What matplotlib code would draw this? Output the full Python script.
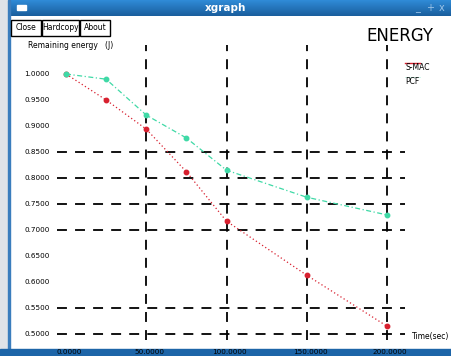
import numpy as np
import matplotlib.pyplot as plt
from matplotlib.patches import Rectangle

# data
time_s = [0, 25, 50, 75, 100, 150, 200]
smac = [1.0, 0.95, 0.894, 0.812, 0.717, 0.613, 0.515]
pcf = [1.0, 0.99, 0.921, 0.877, 0.815, 0.763, 0.729]
xticks = [0, 50, 100, 150, 200]
yticks = [1.0, 0.95, 0.9, 0.85, 0.8, 0.75, 0.7, 0.65, 0.6, 0.55, 0.5]
ygrid = [0.85, 0.8, 0.75, 0.7, 0.55, 0.5]

W, H = 451, 356
fig = plt.figure(figsize=(W / 100, H / 100), dpi=100)
fig.patch.set_facecolor('white')

def fx(px):
    return px / W

def fy(py):
    return 1 - py / H

# window decorations
bg = fig.add_axes([0, 0, 1, 1])
bg.set_xlim(0, W)
bg.set_ylim(H, 0)
bg.axis('off')
bg.add_patch(Rectangle((0, 0), 9, H, color='#dfe3e8'))
bg.add_patch(Rectangle((8, 0), 2, H, color='#3a7dbd'))
grad = np.linspace(0, 1, 16).reshape(-1, 1)
cmap = plt.matplotlib.colors.LinearSegmentedColormap.from_list('t', ['#2f8ad6', '#1a5f9e'])
bg.imshow(grad, extent=(9, W, 16, 0), cmap=cmap, aspect='auto')
bg.add_patch(Rectangle((0, 349), W, 7, color='#1d65a8'))
bg.add_patch(Rectangle((17, 5), 9, 5, color='white'))
bg.text(226, 8, 'xgraph', color='white', fontsize=7.5, fontweight='bold', ha='center', va='center')
bg.text(418, 8, '_', color='#9cc4e8', fontsize=7, ha='center', va='center')
bg.text(430, 8, '+', color='#9cc4e8', fontsize=7, ha='center', va='center')
bg.text(442, 8, 'x', color='#9cc4e8', fontsize=7, ha='center', va='center')
for x0, w, lab in [(11, 30, 'Close'), (42, 37, 'Hardcopy'), (80, 30, 'About')]:
    bg.add_patch(Rectangle((x0, 20), w, 16, fill=False, ec='black', lw=1))
    bg.text(x0 + w / 2, 28, lab, fontsize=5.5, ha='center', va='center')
bg.text(433, 36, 'ENERGY', fontsize=12, ha='right', va='center')
bg.text(28, 46, 'Remaining energy   (J)', fontsize=5.5, ha='left', va='center')
bg.text(412, 336, 'Time(sec)', fontsize=5.5, ha='left', va='center')

# plot area: x 57..405 px, y 45..340 px
ax = fig.add_axes([fx(57), fy(340), fx(405) - fx(57), fy(45) - fy(340)])
sx = 321 / 200
ax.set_xlim(0 - 9 / sx, 200 + 18 / sx)
ax.set_ylim(0.5 - 6 / 520, 1.0 + 29 / 520)
ax.axis('off')

for v in ygrid:
    ax.axhline(v, color='black', lw=1.3, ls=(0, (5.5, 4.5)))
for v in xticks[1:]:
    ax.axvline(v, color='black', lw=1.3, ls=(0, (5.5, 4.5)))

ax.plot(time_s, smac, color='#d8202f', lw=0.9, ls=(0, (1, 2)), marker='o', ms=3.2)
ax.plot(time_s, pcf, color='#3fd9a6', lw=0.9, ls=(0, (4, 2, 1, 2)), marker='o', ms=3.2)

for v in yticks:
    ax.text(-5.6 - 7 / sx, v, '%.4f' % v, fontsize=5.2, ha='right', va='center', clip_on=False)
for v in xticks:
    ax.text(v + 2, 0.5 - 18 / 520, '%.4f' % v, fontsize=5.2, ha='center', va='center', clip_on=False)

# legend
bg.plot([405, 420], [63, 63], color='#d8202f', lw=1)
bg.text(405, 68, 'S-MAC', fontsize=5.5, ha='left', va='center')
bg.plot([405, 420], [77, 77], color='#3fd9a6', lw=0.6, alpha=0.3)
bg.text(405, 82, 'PCF', fontsize=5.5, ha='left', va='center')

fig.savefig('out.png', dpi=100)
